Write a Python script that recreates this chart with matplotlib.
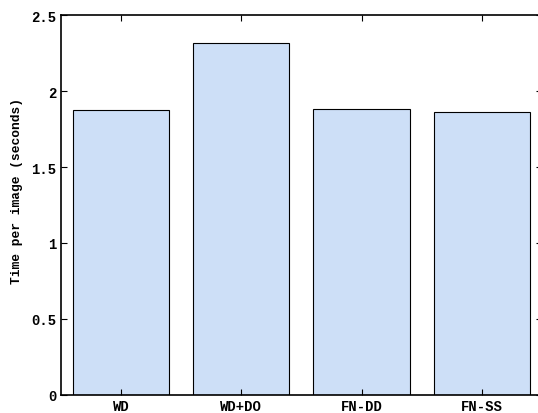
import matplotlib
matplotlib.use('Agg')
import matplotlib.pyplot as plt
import numpy as np

labels = ['WD', 'WD+DO', 'FN-DD', 'FN-SS']
times = [1.877, 2.318, 1.882, 1.861]

plt.rcParams['font.family'] = ['Liberation Mono', 'DejaVu Sans Mono']
plt.rcParams['font.weight'] = 'bold'

fig = plt.figure(figsize=(5.38, 4.14), dpi=100)
# axes run a bit past the right edge of the figure, as in the original crop
ax = fig.add_axes([60.7 / 538, 18 / 414, 481.5 / 538, 380 / 414])

x = np.arange(1, len(labels) + 1)
ax.bar(x, times, width=0.8, color='#cddff7', edgecolor='black', linewidth=0.8)

ax.set_xlim(0.5, 4.5)
ax.set_ylim(0, 2.5)
ax.set_xticks(x)
ax.set_xticklabels(labels, fontsize=10, fontweight='bold')
ax.set_yticks([0, 0.5, 1, 1.5, 2, 2.5])
ax.set_yticklabels(['0', '0.5', '1', '1.5', '2', '2.5'], fontsize=10, fontweight='bold')
ax.tick_params(direction='in', top=True, right=True, length=4, width=0.8, pad=3)
for s in ax.spines.values():
    s.set_linewidth(1.2)
ax.set_ylabel('Time per image (seconds)', fontsize=9.3, fontweight='bold')
ax.yaxis.set_label_coords(-0.078, 0.54)

fig.savefig('out.png', dpi=100)
